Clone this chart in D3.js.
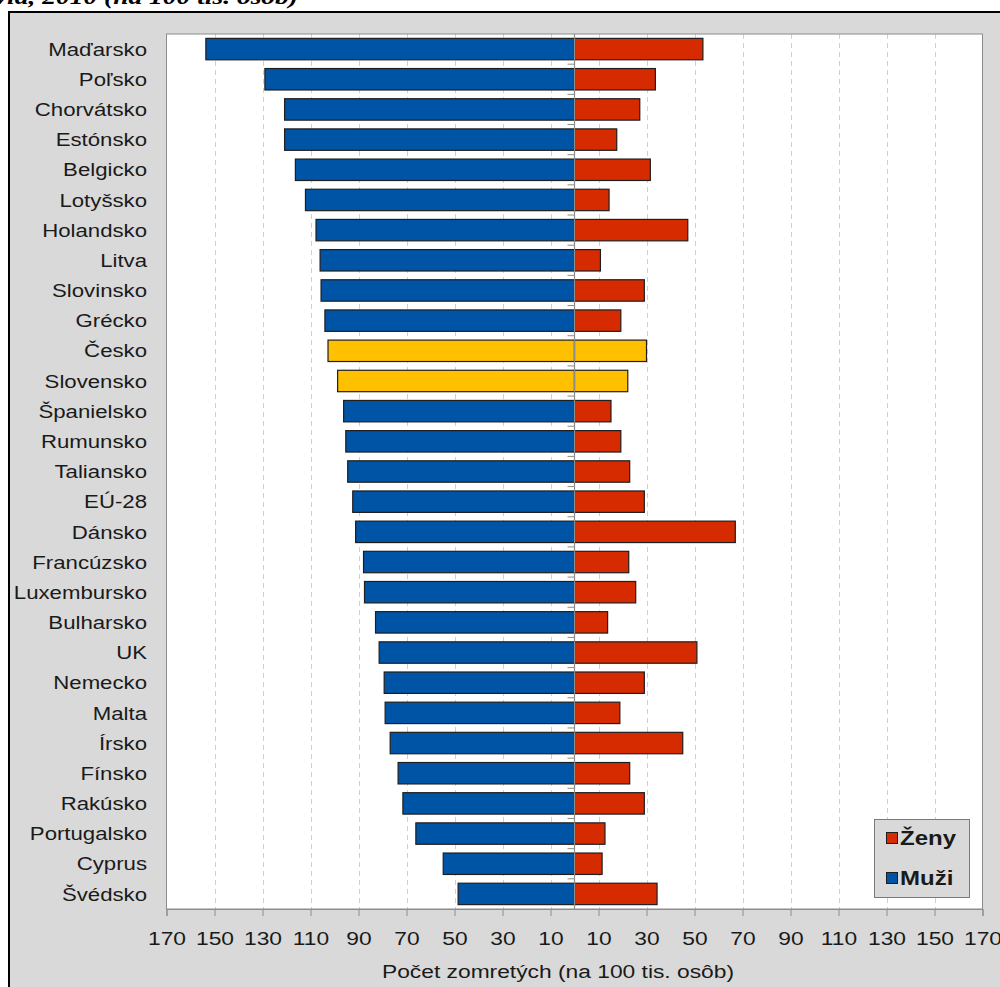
<!DOCTYPE html>
<html>
<head>
<meta charset="utf-8">
<script src="https://cdn.jsdelivr.net/npm/d3@7"></script>
<style>
  html, body { margin: 0; padding: 0; background: #ffffff; }
  svg { display: block; }
  text { font-family: "Liberation Sans", Arial, sans-serif; }
</style>
</head>
<body>
<svg id="chart" width="1000" height="987"></svg>
<script>
// Mortality per 100 000 inhabitants, by sex, 2010
const categories = [
  "Maďarsko", "Poľsko", "Chorvátsko", "Estónsko", "Belgicko", "Lotyšsko",
  "Holandsko", "Litva", "Slovinsko", "Grécko", "Česko", "Slovensko",
  "Španielsko", "Rumunsko", "Taliansko", "EÚ-28", "Dánsko", "Francúzsko",
  "Luxembursko", "Bulharsko", "UK", "Nemecko", "Malta", "Írsko", "Fínsko",
  "Rakúsko", "Portugalsko", "Cyprus", "Švédsko"
];
const muzi = [
  153.6, 129.0, 120.8, 120.8, 116.3, 112.1,
  107.7, 106.0, 105.6, 104.0, 102.7, 98.7,
  96.2, 95.3, 94.5, 92.4, 91.2, 87.9,
  87.5, 82.9, 81.4, 79.3, 78.9, 76.8, 73.5,
  71.5, 66.1, 54.7, 48.5
];
const zeny = [
  53.5, 33.7, 27.2, 17.6, 31.6, 14.4,
  47.2, 10.8, 29.1, 19.3, 30.0, 22.2,
  15.2, 19.3, 23.0, 29.1, 67.0, 22.6,
  25.5, 13.8, 51.0, 29.1, 18.9, 45.1, 23.0,
  29.1, 12.7, 11.5, 34.4
];
const highlighted = ["Česko", "Slovensko"];
const tickValues = [-170, -150, -130, -110, -90, -70, -50, -30, -10,
                    10, 30, 50, 70, 90, 110, 130, 150, 170];
const legendItems = ["Ženy", "Muži"];

const colors = { muzi: "#0054a6", zeny: "#d62b00", highlight: "#ffc000" };
const STRETCH = 1.2; // horizontal text stretch

const svg = d3.select("#chart");

// caption line above the framed chart
svg.append("text")
  .attr("transform", "translate(298,4) scale(1.25,1)")
  .attr("text-anchor", "end")
  .style("font-family", "'Liberation Serif', 'Times New Roman', serif")
  .style("font-style", "italic")
  .style("font-weight", "bold")
  .style("font-size", "22px")
  .attr("fill", "#000")
  .text("Graf: Úmrtnosť podľa pohlavia, 2010 (na 100 tis. osôb)");

// framed gray background
svg.append("rect")
  .attr("x", 9).attr("y", 12)
  .attr("width", 1100).attr("height", 1100)
  .attr("fill", "#d9d9d9")
  .attr("stroke", "#000").attr("stroke-width", 2);

const plot = { left: 166.5, right: 982.5, top: 34, bottom: 909 };

const x = d3.scaleLinear().domain([-170, 170]).range([plot.left, plot.right]);
const y = d3.scaleBand().domain(categories)
  .range([plot.top, plot.bottom])
  .paddingInner(0.29).paddingOuter(0.145);

// plot area
svg.append("rect")
  .attr("x", plot.left).attr("y", plot.top)
  .attr("width", plot.right - plot.left).attr("height", plot.bottom - plot.top)
  .attr("fill", "#ffffff");

// dashed vertical gridlines
svg.append("g").selectAll("line")
  .data(tickValues.filter(v => Math.abs(v) !== 170))
  .join("line")
  .attr("x1", d => Math.round(x(d)) + 0.5).attr("x2", d => Math.round(x(d)) + 0.5)
  .attr("y1", plot.top).attr("y2", plot.bottom)
  .attr("stroke", "#d0d0d0").attr("stroke-width", 1)
  .attr("stroke-dasharray", "5,4");

const barFill = (d, side) => highlighted.includes(d) ? colors.highlight : colors[side];

// men (left side)
svg.append("g").selectAll("rect")
  .data(categories)
  .join("rect")
  .attr("x", (d, i) => x(-muzi[i]))
  .attr("y", d => y(d))
  .attr("width", (d, i) => x(0) - x(-muzi[i]))
  .attr("height", y.bandwidth())
  .attr("fill", d => barFill(d, "muzi"))
  .attr("stroke", "#1e1e1e").attr("stroke-width", 1.2);

// women (right side)
svg.append("g").selectAll("rect")
  .data(categories)
  .join("rect")
  .attr("x", x(0))
  .attr("y", d => y(d))
  .attr("width", (d, i) => x(zeny[i]) - x(0))
  .attr("height", y.bandwidth())
  .attr("fill", d => barFill(d, "zeny"))
  .attr("stroke", "#1e1e1e").attr("stroke-width", 1.2);

// plot border
svg.append("rect")
  .attr("x", plot.left).attr("y", plot.top)
  .attr("width", plot.right - plot.left).attr("height", plot.bottom - plot.top)
  .attr("fill", "none").attr("stroke", "#8c8c8c").attr("stroke-width", 1);

// central category axis with short ticks between bands
const zeroX = x(0);
svg.append("line")
  .attr("x1", zeroX).attr("x2", zeroX)
  .attr("y1", plot.top).attr("y2", plot.bottom)
  .attr("stroke", "#8c8c8c").attr("stroke-width", 1.2);
svg.append("g").selectAll("line")
  .data(categories.slice(1))
  .join("line")
  .attr("x1", zeroX - 7).attr("x2", zeroX)
  .attr("y1", d => y(d) - y.step() * y.paddingInner() / 2)
  .attr("y2", d => y(d) - y.step() * y.paddingInner() / 2)
  .attr("stroke", "#8c8c8c").attr("stroke-width", 1);

// category labels
svg.append("g").selectAll("text")
  .data(categories)
  .join("text")
  .attr("transform", d => `translate(147,${y(d) + y.bandwidth() / 2}) scale(${STRETCH},1)`)
  .attr("text-anchor", "end")
  .attr("dy", "0.36em")
  .style("font-size", "18.5px")
  .attr("fill", "#1a1a1a")
  .text(d => d);

// value axis
const xAxis = d3.axisBottom(x)
  .tickValues(tickValues)
  .tickFormat(d => Math.abs(d))
  .tickSize(7)
  .tickPadding(0);
const gx = svg.append("g")
  .attr("transform", `translate(0,${plot.bottom})`)
  .call(xAxis);
gx.select(".domain").attr("stroke", "#8c8c8c");
gx.selectAll(".tick line").attr("stroke", "#8c8c8c");
gx.selectAll(".tick text")
  .attr("y", 36)
  .attr("dy", 0)
  .attr("transform", `scale(${STRETCH},1)`)
  .style("font-size", "19px")
  .style("font-family", "'Liberation Sans', Arial, sans-serif")
  .attr("fill", "#1a1a1a");

// axis title
svg.append("text")
  .attr("transform", `translate(558,978) scale(${STRETCH},1)`)
  .attr("text-anchor", "middle")
  .style("font-size", "19px")
  .attr("fill", "#1a1a1a")
  .text("Počet zomretých (na 100 tis. osôb)");

// legend
const legend = svg.append("g");
legend.append("rect")
  .attr("x", 874.5).attr("y", 819.5)
  .attr("width", 95).attr("height", 78)
  .attr("fill", "#d9d9d9")
  .attr("stroke", "#7a7a7a").attr("stroke-width", 1);
const legendColors = { "Ženy": colors.zeny, "Muži": colors.muzi };
legendItems.forEach((name, i) => {
  const cy = 838 + i * 40;
  legend.append("rect")
    .attr("x", 886.5).attr("y", cy - 5.5)
    .attr("width", 11).attr("height", 11)
    .attr("fill", legendColors[name])
    .attr("stroke", "#1e1e1e").attr("stroke-width", 1);
  legend.append("text")
    .attr("transform", `translate(900,${cy}) scale(${STRETCH},1)`)
    .attr("dy", "0.36em")
    .style("font-size", "20px")
    .style("font-weight", "bold")
    .attr("fill", "#1a1a1a")
    .text(name);
});
</script>
</body>
</html>
